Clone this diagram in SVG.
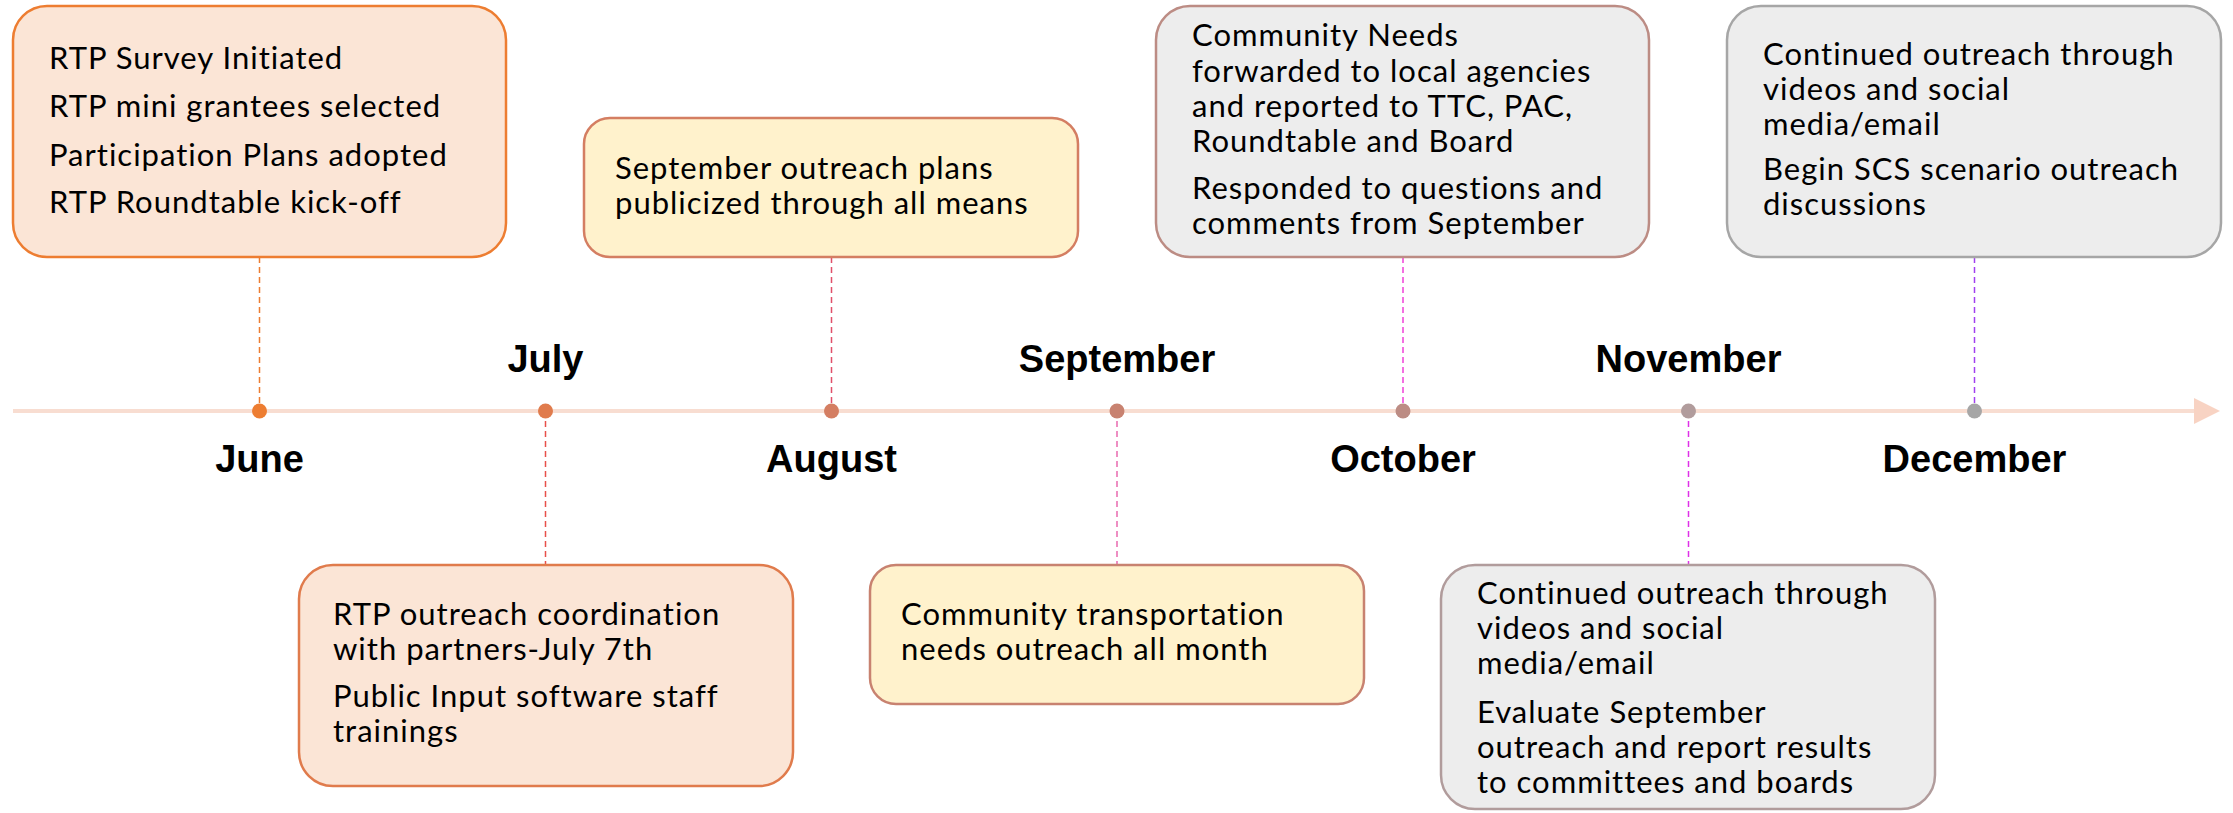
<svg xmlns="http://www.w3.org/2000/svg" width="2233" height="813" viewBox="0 0 2233 813">
<style>
.box{stroke-width:2.5}
.t{font-family:Lato,"Open Sans","Liberation Sans",sans-serif;font-size:31px;letter-spacing:1px;fill:#000}
.m{font-family:"Liberation Sans",Arial,sans-serif;font-weight:bold;font-size:38px;fill:#000;text-anchor:middle}
.c{fill:none;stroke-width:1.5;stroke-dasharray:6 4}
</style>
<rect width="2233" height="813" fill="#fff"/>
<g id="timeline">
<line x1="13" y1="411" x2="2196" y2="411" stroke="#F8DDD1" stroke-width="4"/>
<polygon points="2194,398 2220,411 2194,424" fill="#F8D3C3"/>
</g>
<g id="connectors">
<line class="c" x1="259.5" y1="257" x2="259.5" y2="411" stroke="#ED7D31"/>
<line class="c" x1="545.5" y1="411" x2="545.5" y2="565" stroke="#E8504A"/>
<line class="c" x1="831.5" y1="257" x2="831.5" y2="411" stroke="#E0506A"/>
<line class="c" x1="1117" y1="411" x2="1117" y2="565" stroke="#E96AB0"/>
<line class="c" x1="1403" y1="257" x2="1403" y2="411" stroke="#F040D8"/>
<line class="c" x1="1688.5" y1="411" x2="1688.5" y2="565" stroke="#E030E8"/>
<line class="c" x1="1974.5" y1="257" x2="1974.5" y2="411" stroke="#A040F0"/>
</g>
<g id="dots">
<circle cx="259.5" cy="411" r="7.5" fill="#ED7D31"/>
<circle cx="545.5" cy="411" r="7.5" fill="#E07B4C"/>
<circle cx="831.5" cy="411" r="7.5" fill="#D47E62"/>
<circle cx="1117" cy="411" r="7.5" fill="#C88270"/>
<circle cx="1403" cy="411" r="7.5" fill="#BC8C84"/>
<circle cx="1688.5" cy="411" r="7.5" fill="#B19C9C"/>
<circle cx="1974.5" cy="411" r="7.5" fill="#A6A6A6"/>
</g>
<g id="months">
<text class="m" x="259.5" y="472">June</text>
<text class="m" x="545.5" y="372">July</text>
<text class="m" x="831.5" y="472">August</text>
<text class="m" x="1117" y="372">September</text>
<text class="m" x="1403" y="472">October</text>
<text class="m" x="1688.5" y="372">November</text>
<text class="m" x="1974.5" y="472">December</text>
</g>
<g id="june">
<rect class="box" x="13" y="6" width="493" height="251" rx="34" fill="#FBE5D6" stroke="#ED7D31"/>
<text class="t" x="49" y="69">RTP Survey Initiated</text>
<text class="t" x="49" y="117">RTP mini grantees selected</text>
<text class="t" x="49" y="166">Participation Plans adopted</text>
<text class="t" x="49" y="213">RTP Roundtable kick-off</text>
</g>
<g id="july">
<rect class="box" x="299" y="565" width="494" height="221" rx="34" fill="#FBE5D6" stroke="#E07B4C"/>
<text class="t" x="333" y="625">RTP outreach coordination</text>
<text class="t" x="333" y="660">with partners-July 7th</text>
<text class="t" x="333" y="707">Public Input software staff</text>
<text class="t" x="333" y="742">trainings</text>
</g>
<g id="august">
<rect class="box" x="584" y="118" width="494" height="139" rx="26" fill="#FFF2CC" stroke="#D47E62"/>
<text class="t" x="615" y="179">September outreach plans</text>
<text class="t" x="615" y="214">publicized through all means</text>
</g>
<g id="september">
<rect class="box" x="870" y="565" width="494" height="139" rx="26" fill="#FFF2CC" stroke="#C88270"/>
<text class="t" x="901" y="625">Community transportation</text>
<text class="t" x="901" y="660">needs outreach all month</text>
</g>
<g id="october">
<rect class="box" x="1156" y="6" width="493" height="251" rx="34" fill="#EDEDED" stroke="#BC8C84"/>
<text class="t" x="1192" y="46">Community Needs</text>
<text class="t" x="1192" y="82">forwarded to local agencies</text>
<text class="t" x="1192" y="117">and reported to TTC, PAC,</text>
<text class="t" x="1192" y="152">Roundtable and Board</text>
<text class="t" x="1192" y="199">Responded to questions and</text>
<text class="t" x="1192" y="234">comments from September</text>
</g>
<g id="november">
<rect class="box" x="1441" y="565" width="494" height="244" rx="34" fill="#EDEDED" stroke="#B19C9C"/>
<text class="t" x="1477" y="604">Continued outreach through</text>
<text class="t" x="1477" y="639">videos and social</text>
<text class="t" x="1477" y="674">media/email</text>
<text class="t" x="1477" y="723">Evaluate September</text>
<text class="t" x="1477" y="758">outreach and report results</text>
<text class="t" x="1477" y="793">to committees and boards</text>
</g>
<g id="december">
<rect class="box" x="1727" y="6" width="494" height="251" rx="34" fill="#EDEDED" stroke="#A6A6A6"/>
<text class="t" x="1763" y="65">Continued outreach through</text>
<text class="t" x="1763" y="100">videos and social</text>
<text class="t" x="1763" y="135">media/email</text>
<text class="t" x="1763" y="180">Begin SCS scenario outreach</text>
<text class="t" x="1763" y="215">discussions</text>
</g>
</svg>
